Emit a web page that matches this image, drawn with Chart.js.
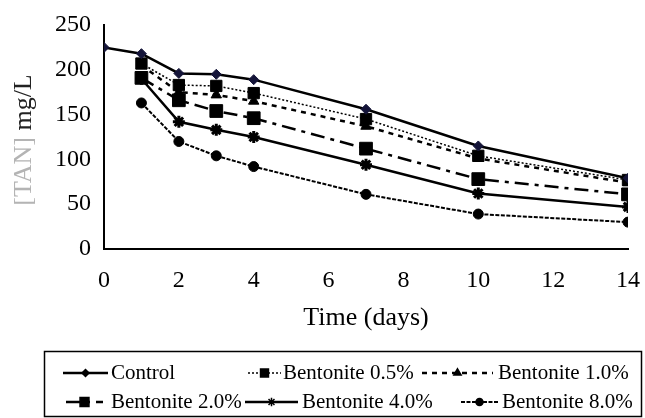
<html lang="en">
<head>
<meta charset="UTF-8">
<script src="https://cdn.jsdelivr.net/npm/chart.js"></script>
<title>TAN</title>
<style>
  body { margin: 0; background: #fff; }
</style>
</head>
<body>
<canvas id="myChart" width="645" height="418"></canvas>
<script>
const days = [0, 1, 2, 3, 4, 7, 10, 14];
const seriesNames = ['Control', 'Bentonite 0.5%', 'Bentonite 1.0%', 'Bentonite 2.0%', 'Bentonite 4.0%', 'Bentonite 8.0%'];
const control = [225, 218, 196, 195, 189, 156, 115, 79];
const bent05 = [null, 207, 183, 182, 174, 145, 104, 77];
const bent10 = [null, 205, 175, 172, 165, 137, 101, 74];
const bent20 = [null, 191, 166, 154, 146, 112, 78, 61];
const bent40 = [null, 190, 142, 133, 125, 94, 62, 47];
const bent80 = [null, 163, 120, 104, 92, 61, 39, 30];
const yTicks = [0, 50, 100, 150, 200, 250];
const xTicks = [0, 2, 4, 6, 8, 10, 12, 14];

const FONT = '"Liberation Serif", "DejaVu Serif", serif';

function pts(values) {
  const out = [];
  values.forEach((v, i) => { if (v !== null) out.push({ x: days[i], y: v }); });
  return out;
}

const styles = [
  { dash: [], width: 2.5, point: 'rectRot', r: 5, color: '#141438' },
  { dash: [2, 2], width: 1.5, point: 'rect', r: 8, color: '#000' },
  { dash: [5, 5], width: 2.5, point: 'triangle', r: 6, color: '#000' },
  { dash: [14, 6, 4, 6], width: 2.5, point: 'rect', r: 9, color: '#000' },
  { dash: [], width: 2.5, point: 'star', r: 6, color: '#000' },
  { dash: [4, 1.5], width: 2, point: 'circle', r: 5, color: '#000' }
];
const allSeries = [control, bent05, bent10, bent20, bent40, bent80];

// legend layout (row y, sample start/end, text x)
const legendSlots = [
  { y: 373, x0: 63, x1: 108, tx: 111 },
  { y: 373, x0: 248, x1: 281, tx: 283 },
  { y: 373, x0: 422, x1: 493, tx: 498 },
  { y: 402, x0: 66, x1: 103, tx: 111 },
  { y: 402, x0: 245, x1: 298, tx: 302 },
  { y: 402, x0: 461, x1: 498, tx: 502 }
];

const extras = {
  id: 'extras',
  afterDraw(chart) {
    const ctx = chart.ctx;
    ctx.save();
    // y axis title, two-tone like the scan
    ctx.translate(24, 140);
    ctx.rotate(-Math.PI / 2);
    ctx.font = '26px ' + FONT;
    ctx.textBaseline = 'middle';
    const a = '[TAN]', b = ' mg/L';
    const wa = ctx.measureText(a).width, wb = ctx.measureText(b).width;
    let x = -(wa + wb) / 2;
    ctx.fillStyle = '#b4b4b4';
    ctx.fillText(a, x, 0);
    ctx.fillStyle = '#222';
    ctx.fillText(b, x + wa, 0);
    ctx.restore();

    // legend box
    ctx.save();
    ctx.strokeStyle = '#000';
    ctx.lineWidth = 1.5;
    ctx.strokeRect(44.5, 351.5, 597, 65);
    ctx.font = '21px ' + FONT;
    ctx.textBaseline = 'middle';
    chart.data.datasets.forEach((ds, i) => {
      const s = legendSlots[i];
      ctx.save();
      ctx.strokeStyle = '#000';
      ctx.lineWidth = ds.borderWidth;
      ctx.setLineDash(ds.borderDash);
      ctx.beginPath();
      ctx.moveTo(s.x0, s.y);
      ctx.lineTo(s.x1, s.y);
      ctx.stroke();
      ctx.restore();
      Chart.helpers.drawPoint(ctx, {
        pointStyle: ds.pointStyle,
        radius: ds.pointRadius * 0.7,
        borderWidth: ds.pointBorderWidth,
        rotation: 0
      }, (s.x0 + s.x1) / 2, s.y);
      ctx.fillStyle = '#000';
      ctx.fillText(ds.label, s.tx, s.y);
    });
    ctx.restore();
  }
};

const datasets = allSeries.map((vals, i) => ({
  label: seriesNames[i],
  data: pts(vals),
  borderColor: '#000',
  backgroundColor: styles[i].color,
  borderWidth: styles[i].width,
  borderDash: styles[i].dash,
  pointStyle: styles[i].point,
  pointRadius: styles[i].r,
  pointBackgroundColor: styles[i].color,
  pointBorderColor: styles[i].color,
  pointBorderWidth: styles[i].point === 'star' ? 3 : 1,
  tension: 0,
  fill: false
}));

new Chart(document.getElementById('myChart'), {
  type: 'line',
  data: { datasets: datasets },
  plugins: [extras],
  options: {
    responsive: false,
    animation: false,
    layout: { padding: { left: 0, top: 25, right: 17, bottom: 84 } },
    plugins: { legend: { display: false }, tooltip: { enabled: false } },
    scales: {
      x: {
        type: 'linear',
        min: 0,
        max: 14,
        afterBuildTicks: s => { s.ticks = xTicks.map(v => ({ value: v })); },
        afterFit: s => { s.height = 85; s.paddingLeft = 0; s.paddingRight = 0; },
        grid: { display: false, drawOnChartArea: false, tickLength: 6, tickWidth: 2, tickColor: '#000' },
        border: { display: true, color: '#000', width: 2 },
        ticks: { color: '#000', font: { family: FONT, size: 24 }, padding: 11, maxRotation: 0 },
        title: { display: true, text: 'Time (days)', color: '#000', font: { family: FONT, size: 26 }, padding: { top: 0, bottom: 0 } }
      },
      y: {
        min: 0,
        max: 250,
        afterBuildTicks: s => { s.ticks = yTicks.map(v => ({ value: v })); },
        afterFit: s => { s.width = 104; },
        grid: { display: false, drawOnChartArea: false, tickLength: 7, tickWidth: 2, tickColor: '#000' },
        border: { display: true, color: '#000', width: 2 },
        ticks: { color: '#000', font: { family: FONT, size: 24 }, padding: 6 }
      }
    }
  }
});
</script>
</body>
</html>
